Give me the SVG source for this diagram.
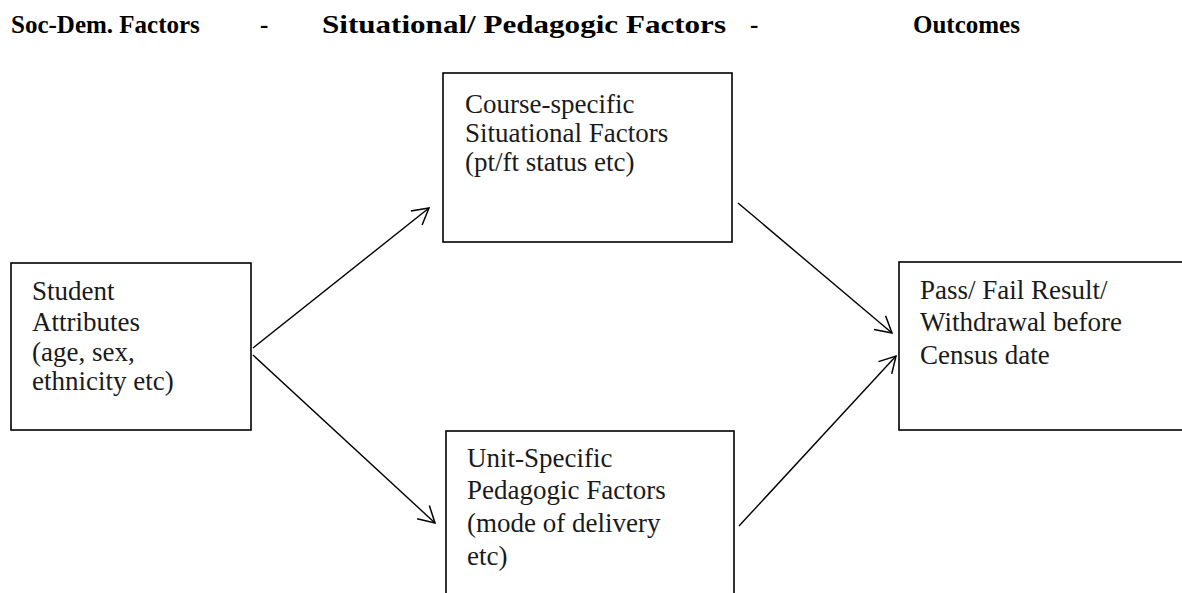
<svg xmlns="http://www.w3.org/2000/svg" width="1182" height="593" viewBox="0 0 1182 593">
<style>
.hdr{font-family:"Liberation Serif",serif;font-weight:bold;font-size:25px;fill:#000}
.txt{font-family:"Liberation Serif",serif;font-size:27px;fill:#1a1a1a}
.box{fill:#fff;stroke:#000;stroke-width:1.6}
.con{fill:none;stroke:#000;stroke-width:1.4}
</style>
<defs>
<marker id="arr" markerUnits="userSpaceOnUse" markerWidth="24" markerHeight="24" refX="20" refY="12" orient="auto" viewBox="0 0 24 24">
<path d="M4,3 L20,12 L4,21" fill="none" stroke="#000" stroke-width="1.5"/>
</marker>
</defs>
<rect width="1182" height="593" fill="#fff"/>
<g id="headers">
<text class="hdr" x="11" y="33">Soc-Dem. Factors</text>
<text class="hdr" x="260" y="33">-</text>
<text class="hdr" x="322" y="33" textLength="404" lengthAdjust="spacingAndGlyphs">Situational/ Pedagogic Factors</text>
<text class="hdr" x="750" y="33">-</text>
<text class="hdr" x="913" y="33">Outcomes</text>
</g>
<g id="connectors">
<line class="con" x1="253" y1="348" x2="429" y2="208" marker-end="url(#arr)"/>
<line class="con" x1="253" y1="355" x2="435" y2="523" marker-end="url(#arr)"/>
<line class="con" x1="738" y1="203" x2="892" y2="333" marker-end="url(#arr)"/>
<line class="con" x1="739" y1="526" x2="896" y2="356" marker-end="url(#arr)"/>
</g>
<g id="student">
<rect class="box" x="11" y="263" width="240" height="167"/>
<text class="txt" x="32" y="300">Student</text>
<text class="txt" x="32" y="331">Attributes</text>
<text class="txt" x="32" y="361">(age, sex,</text>
<text class="txt" x="32" y="390">ethnicity etc)</text>
</g>
<g id="course">
<rect class="box" x="443" y="73" width="289" height="169"/>
<text class="txt" x="465" y="113">Course-specific</text>
<text class="txt" x="465" y="142">Situational Factors</text>
<text class="txt" x="465" y="171">(pt/ft status etc)</text>
</g>
<g id="unit">
<rect class="box" x="446" y="431" width="288" height="200"/>
<text class="txt" x="467" y="467">Unit-Specific</text>
<text class="txt" x="467" y="499">Pedagogic Factors</text>
<text class="txt" x="467" y="532">(mode of delivery</text>
<text class="txt" x="467" y="565">etc)</text>
</g>
<g id="outcome">
<rect class="box" x="899" y="262" width="320" height="168"/>
<text class="txt" x="920" y="299">Pass/ Fail Result/</text>
<text class="txt" x="920" y="331">Withdrawal before</text>
<text class="txt" x="920" y="364">Census date</text>
</g>
</svg>
